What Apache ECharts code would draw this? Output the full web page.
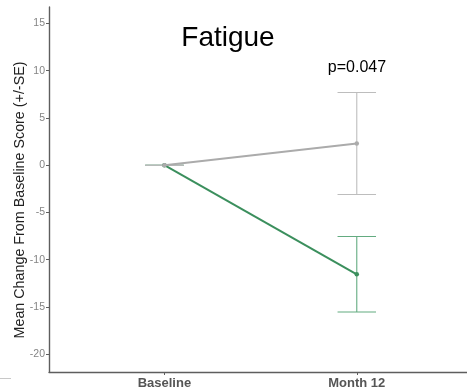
<!DOCTYPE html>
<html>
<head>
<meta charset="utf-8">
<script src="https://cdn.jsdelivr.net/npm/echarts@6/dist/echarts.min.js"></script>
<style>
  html, body { margin: 0; padding: 0; background: #fff; }
  #chart { width: 467px; height: 390px; }
</style>
</head>
<body>
<div id="chart"></div>
<script>
// Visits along the x axis (1 = Baseline, 2 = Month 12)
const categories = ['Baseline', 'Month 12'];
const visitPos = [1, 2];

// Mean change from baseline and standard error per group
const controlMean = [0, 2.3];
const controlSE = [0, 5.4];
const treatedMean = [0, -11.55];
const treatedSE = [0, 4.0];

const yTicks = [-20, -15, -10, -5, 0, 5, 10, 15];
const pLabel = 'p=0.047';
const titleText = 'Fatigue';
const yTitle = 'Mean Change From Baseline Score (+/-SE)';

const GREY = '#ababab';
const GREY_BAR = '#bdbdbd';
const GREEN = '#3b8f5d';
const GREEN_BAR = '#63ab80';

function lineData(means) {
  return visitPos.map((x, i) => [x, means[i]]);
}
function barData(means, ses) {
  return visitPos.map((x, i) => [x, means[i] - ses[i], means[i] + ses[i]]);
}

function errorBar(color) {
  return function (params, api) {
    const x = api.value(0);
    const lo = api.coord([x, api.value(1)]);
    const hi = api.coord([x, api.value(2)]);
    const capL = api.coord([x - 0.1, 0])[0];
    const capR = api.coord([x + 0.1, 0])[0];
    const style = { stroke: color, lineWidth: 1.1 };
    return {
      type: 'group',
      children: [
        { type: 'line', shape: { x1: lo[0], y1: lo[1], x2: hi[0], y2: hi[1] }, style },
        { type: 'line', shape: { x1: capL, y1: hi[1], x2: capR, y2: hi[1] }, style },
        { type: 'line', shape: { x1: capL, y1: lo[1], x2: capR, y2: lo[1] }, style }
      ]
    };
  };
}

const chart = echarts.init(document.getElementById('chart'), null, { renderer: 'canvas' });

chart.setOption({
  animation: false,
  backgroundColor: '#ffffff',
  grid: { left: 49, right: 0, top: 7, bottom: 16, containLabel: false },
  xAxis: {
    type: 'value',
    min: 0.4,
    max: 2.573,
    axisLine: { show: true, onZero: false, lineStyle: { color: '#5e5e5e', width: 1.4 } },
    axisTick: { show: true, length: 3, customValues: visitPos, lineStyle: { color: '#5e5e5e' } },
    axisLabel: {
      customValues: visitPos,
      formatter: v => categories[Math.round(v) - 1] || '',
      color: '#555555',
      fontFamily: 'Liberation Sans, Arial, sans-serif',
      fontWeight: 'bold',
      fontSize: 13,
      margin: 5
    },
    splitLine: { show: false }
  },
  yAxis: {
    type: 'value',
    min: -21.9,
    max: 16.75,
    axisLine: { show: true, onZero: false, lineStyle: { color: '#5e5e5e', width: 1.4 } },
    axisTick: { show: true, length: 3, customValues: yTicks, lineStyle: { color: '#5e5e5e' } },
    axisLabel: {
      customValues: yTicks,
      color: '#858585',
      fontFamily: 'Liberation Sans, Arial, sans-serif',
      fontSize: 10.5,
      margin: 4
    },
    splitLine: { show: false }
  },
  series: [
    {
      type: 'custom',
      name: 'treated SE',
      data: barData(treatedMean, treatedSE),
      renderItem: errorBar(GREEN_BAR),
      z: 1
    },
    {
      type: 'custom',
      name: 'control SE',
      data: barData(controlMean, controlSE),
      renderItem: errorBar(GREY_BAR),
      z: 2
    },
    {
      type: 'line',
      name: 'treated',
      data: lineData(treatedMean),
      symbol: 'circle',
      symbolSize: 4.5,
      itemStyle: { color: GREEN },
      lineStyle: { color: GREEN, width: 2 },
      z: 3
    },
    {
      type: 'line',
      name: 'control',
      data: lineData(controlMean),
      symbol: 'circle',
      symbolSize: 4.5,
      itemStyle: { color: GREY },
      lineStyle: { color: GREY, width: 2 },
      z: 4
    }
  ],
  graphic: [
    {
      type: 'text',
      x: 228, y: 38,
      style: {
        text: titleText,
        fill: '#000000',
        font: '28px "Liberation Sans", Arial, sans-serif',
        textAlign: 'center',
        textVerticalAlign: 'middle'
      }
    },
    {
      type: 'text',
      x: 357, y: 68,
      style: {
        text: pLabel,
        fill: '#000000',
        font: '16px "Liberation Sans", Arial, sans-serif',
        textAlign: 'center',
        textVerticalAlign: 'middle'
      }
    },
    {
      type: 'text',
      x: 20, y: 200,
      rotation: Math.PI / 2,
      style: {
        text: yTitle,
        fill: '#222222',
        font: '14.3px "Liberation Sans", Arial, sans-serif',
        textAlign: 'center',
        textVerticalAlign: 'middle'
      }
    },
    {
      type: 'line',
      shape: { x1: 0, y1: 378.5, x2: 11, y2: 378.5 },
      style: { stroke: '#c8c8c8', lineWidth: 1 }
    }
  ]
});
</script>
</body>
</html>
